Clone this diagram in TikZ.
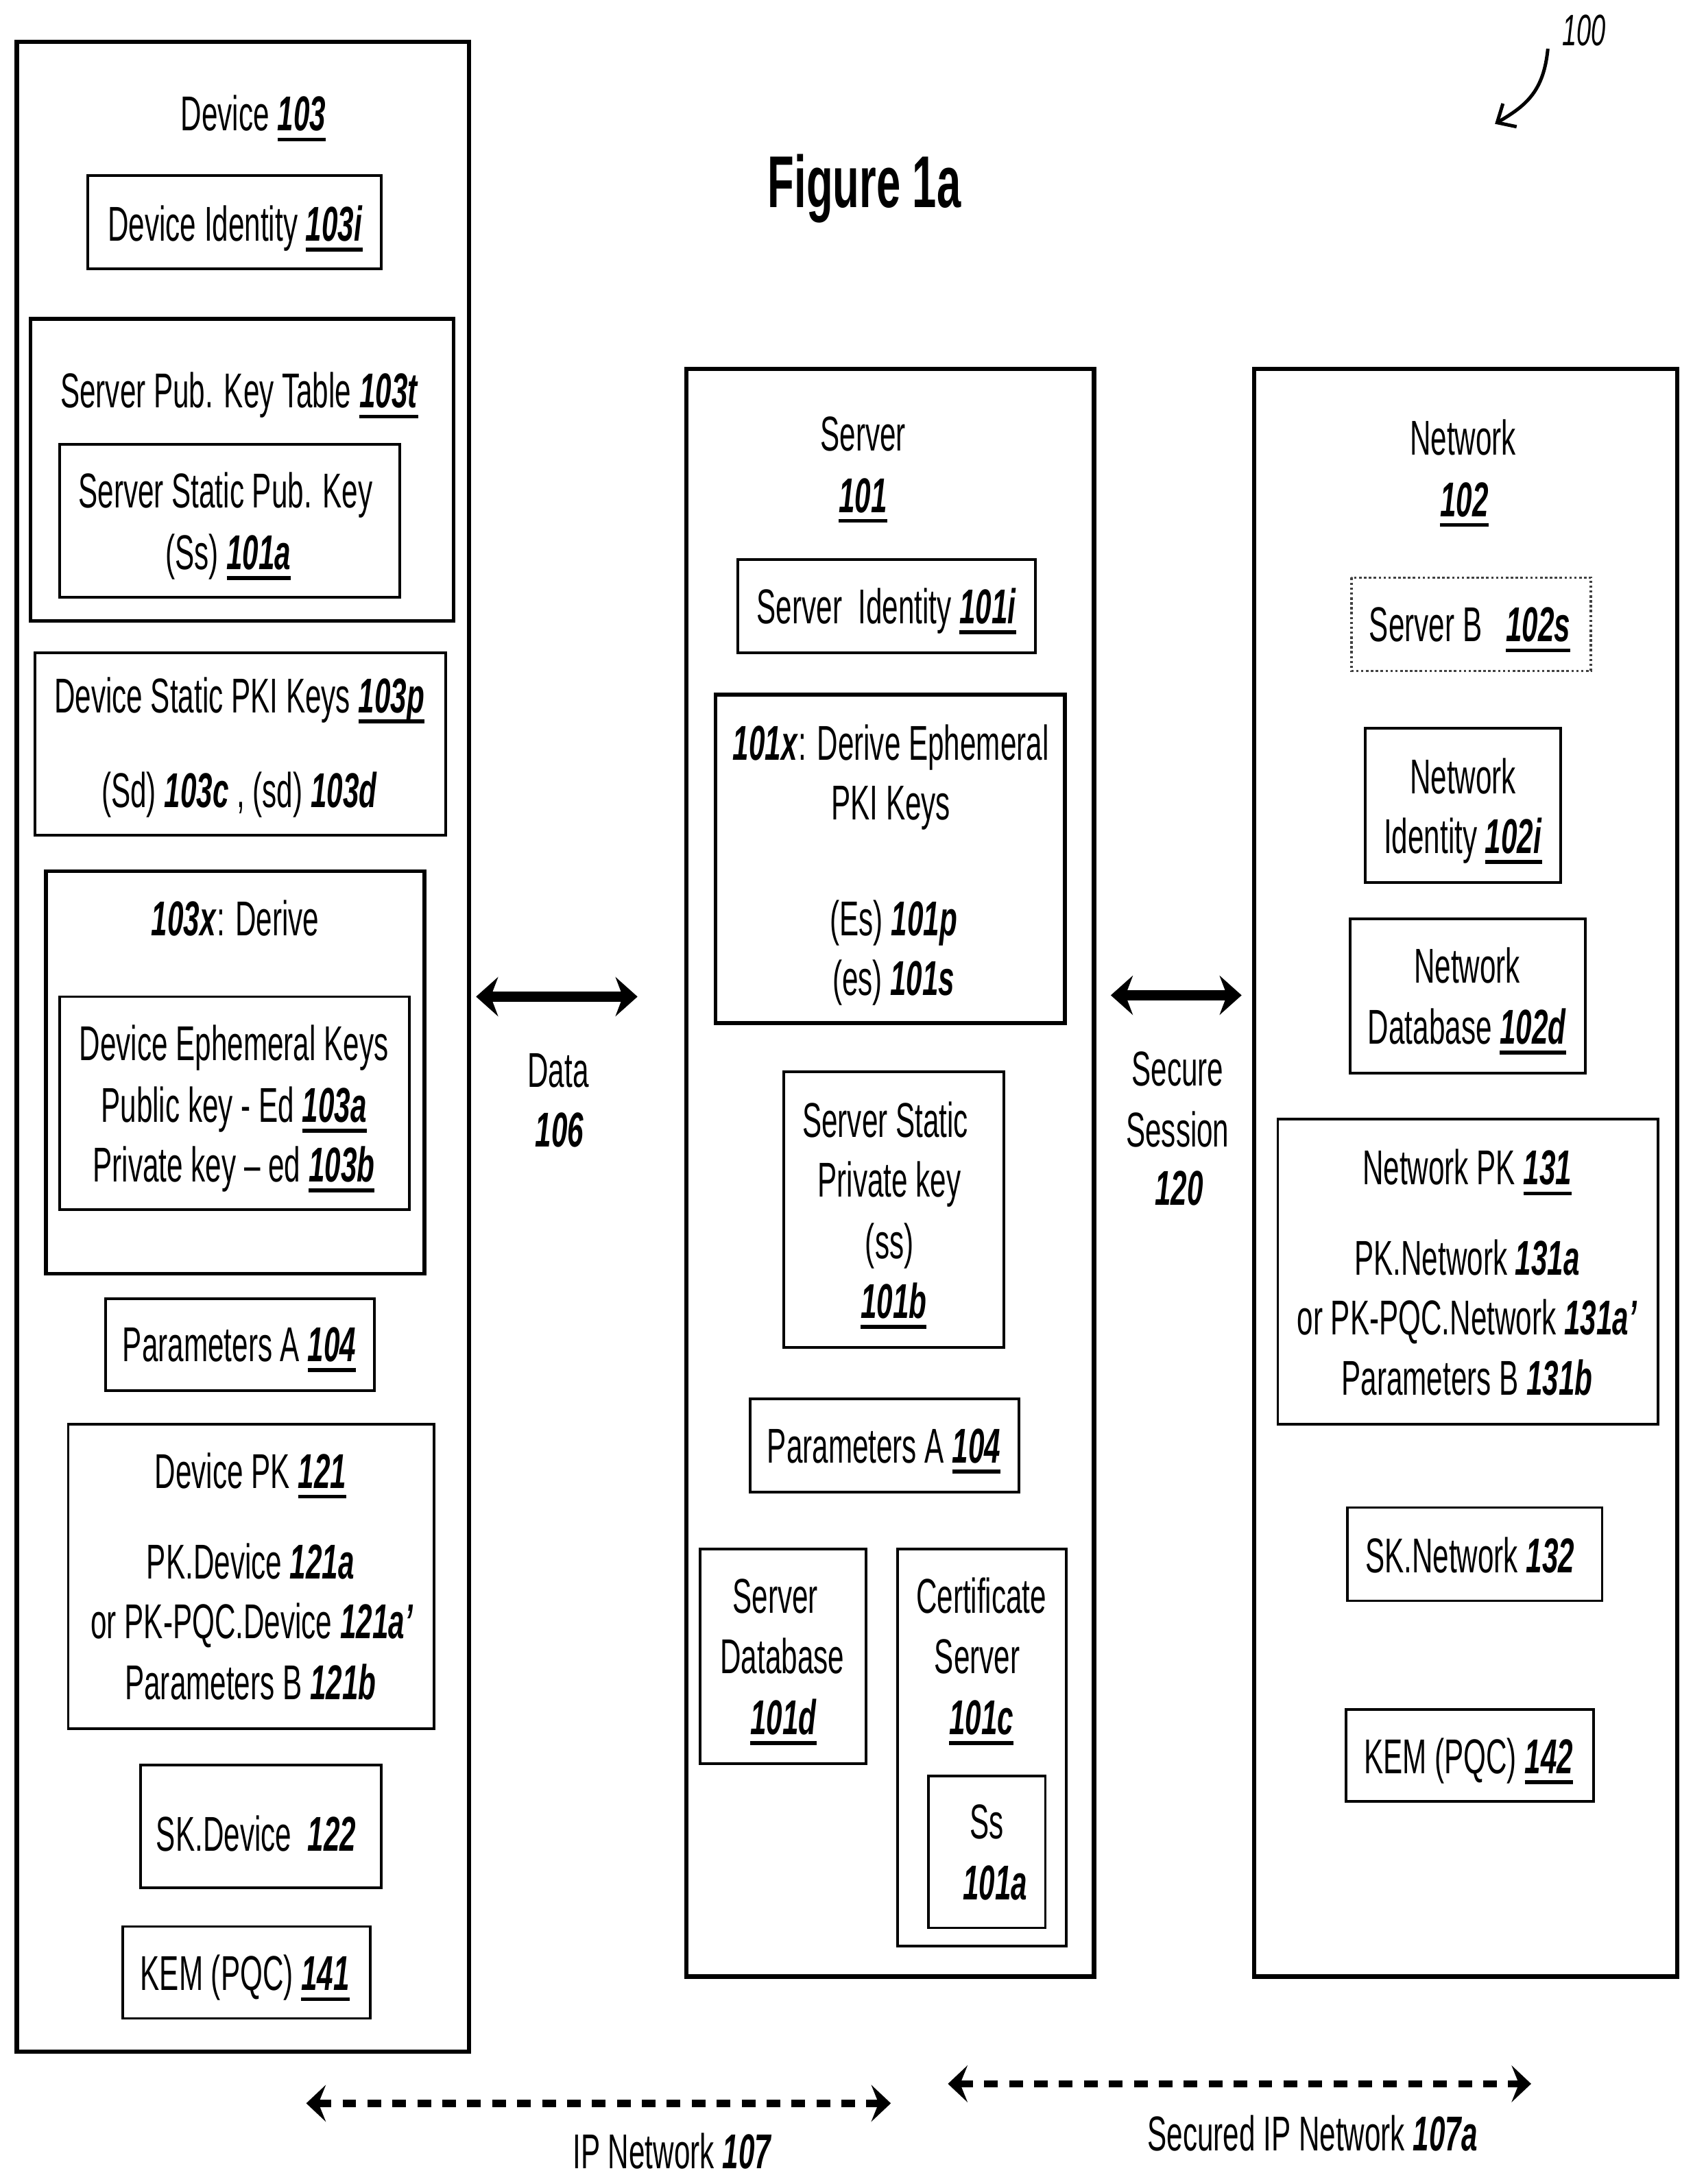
\documentclass[tikz,border=0pt]{standalone}
\usepackage{fontspec}
\setmainfont{Liberation Sans}[FakeStretch=0.592]
\usetikzlibrary{arrows.meta}
\newlength{\refwd}
\newcommand{\refb}[1]{\textbf{\textit{#1}}}
\newcommand{\refn}[1]{\settowidth{\refwd}{\refb{#1}}\refb{#1}\hspace{-\refwd}\rule[-4.3pt]{\refwd}{1.5pt}}
\tikzset{
	lbl/.style={anchor=base, inner sep=0pt, font=\fontsize{20}{24}\selectfont},
	outerbox/.style={draw, line width=1.8pt},
	midbox/.style={draw, line width=1.5pt},
	thinbox/.style={draw, line width=1.1pt},
	solidlink/.style={line width=4pt, {Stealth[length=9pt, width=16pt, inset=3pt]}-{Stealth[length=9pt, width=16pt, inset=3pt]}},
	dashlink/.style={line width=3pt, dash pattern=on 5.6pt off 4.6pt, {Stealth[length=8pt, width=15pt, inset=3pt]}-{Stealth[length=8pt, width=15pt, inset=3pt]}}
}

\begin{document}
\begin{tikzpicture}[x=0.02cm, y=-0.02cm]
	\useasboundingbox (-1,-1) rectangle (1215,1568);

	% device column
	\draw[outerbox] (11,29) rectangle (336,1473);
	\draw[thinbox] (62,125) rectangle (273,192);
	\draw[midbox] (21,228) rectangle (325,445);
	\draw[thinbox] (42,318) rectangle (286,428);
	\draw[thinbox] (24,468) rectangle (319,599);
	\draw[midbox] (32,625) rectangle (304,914);
	\draw[thinbox] (42,715) rectangle (293,868);
	\draw[thinbox] (75,932) rectangle (268,998);
	\draw[thinbox] (48,1022) rectangle (311,1241);
	\draw[thinbox] (100,1267) rectangle (273,1355);
	\draw[thinbox] (87,1383) rectangle (265,1449);

	\node[lbl] (devtitle) at (181,93) {Device \refn{103}};
	\node[lbl] (devid) at (168,172) {Device Identity \refn{103i}};
	\node[lbl] (keytable) at (171,292) {Server Pub. Key Table \refn{103t}};
	\node[lbl] (sstatica) at (161,364) {Server Static Pub. Key};
	\node[lbl] (sstaticb) at (163,408) {(Ss) \refn{101a}};
	\node[lbl] (dstatica) at (171,511) {Device Static PKI Keys \refn{103p}};
	\node[lbl] (dstaticb) at (171,579) {(Sd) \refb{103c} , (sd) \refb{103d}};
	\node[lbl] (derive) at (168,671) {\refb{103x}: Derive};
	\node[lbl] (epha) at (167,761) {Device Ephemeral Keys};
	\node[lbl] (ephb) at (167,805) {Public key - Ed \refn{103a}};
	\node[lbl] (ephc) at (167,848) {Private key -- ed \refn{103b}};
	\node[lbl] (paramsdev) at (171,977) {Parameters A \refn{104}};
	\node[lbl] (devpk) at (179,1068) {Device PK \refn{121}};
	\node[lbl] (devpka) at (179,1133) {PK.Device \refb{121a}};
	\node[lbl] (devpkb) at (180,1176) {or PK-PQC.Device \refb{121a’}};
	\node[lbl] (devpkc) at (179,1220) {Parameters B \refb{121b}};
	\node[lbl] (skdev) at (183,1329) {SK.Device\ \ \refb{122}};
	\node[lbl] (kemdev) at (175,1429) {KEM (PQC) \refn{141}};

	% server column
	\draw[outerbox] (492,264) rectangle (785,1419);
	\draw[thinbox] (529,401) rectangle (743,468);
	\draw[midbox] (513,498) rectangle (764,734);
	\draw[thinbox] (562,769) rectangle (720,967);
	\draw[thinbox] (538,1004) rectangle (731,1071);
	\draw[thinbox] (502,1112) rectangle (621,1266);
	\draw[thinbox] (644,1112) rectangle (765,1397);
	\draw[thinbox] (666,1275) rectangle (750,1384);

	\node[lbl] (srvtitle) at (619,323) {Server};
	\node[lbl] (srvnum) at (619,367) {\refn{101}};
	\node[lbl] (srvid) at (636,447) {Server\ \ Identity \refn{101i}};
	\node[lbl] (epha2) at (639,545) {\refb{101x}: Derive Ephemeral};
	\node[lbl] (ephb2) at (639,588) {PKI Keys};
	\node[lbl] (ephc2) at (641,671) {(Es) \refb{101p}};
	\node[lbl] (ephd2) at (641,714) {(es) \refb{101s}};
	\node[lbl] (privb) at (635,816) {Server Static};
	\node[lbl] (privc) at (638,859) {Private key};
	\node[lbl] (privd) at (638,903) {(ss)};
	\node[lbl] (prive) at (641,946) {\refn{101b}};
	\node[lbl] (paramssrv) at (634,1050) {Parameters A \refn{104}};
	\node[lbl] (dba) at (556,1158) {Server};
	\node[lbl] (dbb) at (561,1201) {Database};
	\node[lbl] (dbc) at (562,1245) {\refn{101d}};
	\node[lbl] (certa) at (704,1158) {Certificate};
	\node[lbl] (certb) at (701,1201) {Server};
	\node[lbl] (certc) at (704,1245) {\refn{101c}};
	\node[lbl] (ssa) at (708,1320) {Ss};
	\node[lbl] (ssb) at (714,1364) {\refb{101a}};

	% network column
	\draw[outerbox] (900,264) rectangle (1204,1419);
	\draw[draw=black!75, line width=1pt, densely dotted] (970,414) rectangle (1142,481);
	\draw[thinbox] (980,522) rectangle (1120,633);
	\draw[thinbox] (969,659) rectangle (1138,770);
	\draw[thinbox] (917,803) rectangle (1190,1022);
	\draw[thinbox] (967,1082) rectangle (1150,1149);
	\draw[thinbox] (966,1227) rectangle (1144,1293);

	\node[lbl] (nettitle) at (1050,326) {Network};
	\node[lbl] (netnum) at (1051,370) {\refn{102}};
	\node[lbl] (srvb) at (1055,460) {Server B\ \ \ \refn{102s}};
	\node[lbl] (netida) at (1050,569) {Network};
	\node[lbl] (netidb) at (1050,612) {Identity \refn{102i}};
	\node[lbl] (netdba) at (1053,705) {Network};
	\node[lbl] (netdbb) at (1053,749) {Database \refn{102d}};
	\node[lbl] (netpk) at (1053,850) {Network PK \refn{131}};
	\node[lbl] (netpka) at (1053,915) {PK.Network \refb{131a}};
	\node[lbl] (netpkb) at (1053,958) {or PK-PQC.Network \refb{131a’}};
	\node[lbl] (netpkc) at (1053,1001) {Parameters B \refb{131b}};
	\node[lbl] (sknet) at (1055,1129) {SK.Network \refb{132}};
	\node[lbl] (kemnet) at (1054,1273) {KEM (PQC) \refn{142}};

	% links between the columns
	\coordinate (dataL) at (341,715);
	\coordinate (dataR) at (457,715);
	\coordinate (sessL) at (797,714);
	\coordinate (sessR) at (891,714);
	\coordinate (ipL) at (219,1510);
	\coordinate (ipR) at (639,1510);
	\coordinate (secL) at (680,1496);
	\coordinate (secR) at (1099,1496);
	\draw[solidlink] (dataL) -- (dataR);
	\draw[solidlink] (sessL) -- (sessR);
	\draw[dashlink] (ipL) -- (ipR);
	\draw[dashlink] (secL) -- (secR);

	\node[lbl] (dataa) at (400,780) {Data};
	\node[lbl] (datab) at (401,823) {\refb{106}};
	\node[lbl] (sessa) at (845,779) {Secure};
	\node[lbl] (sessb) at (845,823) {Session};
	\node[lbl] (sessc) at (846,865) {\refb{120}};
	\node[lbl] (ipnet) at (482,1557) {IP Network \refb{107}};
	\node[lbl] (secnet) at (942,1544) {Secured IP Network \refb{107a}};

	% title and figure number
	\node[lbl, font=\fontsize{30}{34}\selectfont\bfseries] (figtitle) at (620,148) {Figure 1a};
	\node[lbl, font=\fontsize{18}{22}\selectfont\itshape] (fignum) at (1137,32) {100};
	\coordinate (numS) at (1111,34);
	\coordinate (numE) at (1073,88);
	\draw[line width=1.4pt, -{Straight Barb[length=6pt, width=11pt]}] (numS) .. controls (1108,65) and (1095,75) .. (numE);
\end{tikzpicture}
\end{document}
